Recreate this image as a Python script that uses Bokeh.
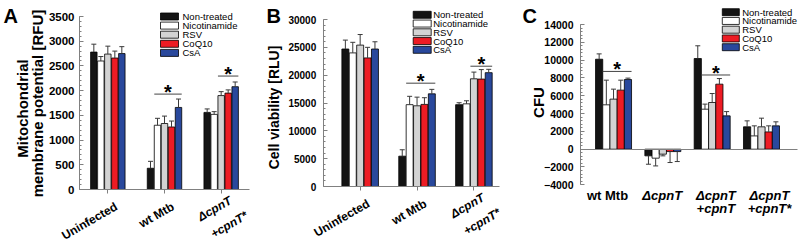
import math
import numpy as np
from bokeh.plotting import figure
from bokeh.models import (ColumnDataSource, Range1d, SingleIntervalTicker, FixedTicker,
                          LinearAxis, CustomJSTickFormatter)
from bokeh.core.properties import value
from bokeh.layouts import row
from bokeh.embed import file_html
from bokeh.resources import INLINE

FONT = "Liberation Sans"
FONT_V = value(FONT)
TREATMENTS = ["Non-treated", "Nicotinamide", "RSV", "CoQ10", "CsA"]
COLORS = ["#141414", "#ffffff", "#d3d3d3", "#ed1c24", "#29489c"]

# ---- Panel A: mitochondrial membrane potential [RFU] ----
A_GROUPS = ["Uninfected", "wt Mtb", "ΔcpnT\n+cpnT*"]
A_UNINFECTED = [2780, 2600, 2740, 2660, 2750]
A_UNINFECTED_SD = [160, 90, 160, 140, 140]
A_WT = [430, 1300, 1335, 1265, 1660]
A_WT_SD = [140, 140, 150, 120, 170]
A_COMP_STAR = [1560, 1520, 1900, 1950, 2080]
A_COMP_STAR_SD = [70, 55, 80, 65, 95]
A_SIG_GROUP = [2, 3]
A_SIG_FROM = [1, 2]
A_SIG_TO = [4, 4]
A_SIG_Y = [1930, 2295]

# ---- Panel B: cell viability [RLU] ----
B_GROUPS = ["Uninfected", "wt Mtb", "ΔcpnT\n+cpnT*"]
B_UNINFECTED = [24700, 24000, 25400, 23100, 24700]
B_UNINFECTED_SD = [1600, 1900, 1900, 1900, 1300]
B_WT = [5450, 14700, 14500, 14750, 16650]
B_WT_SD = [1150, 1500, 1550, 1200, 800]
B_COMP_STAR = [14700, 14850, 19350, 19300, 20450]
B_COMP_STAR_SD = [350, 550, 1200, 1700, 600]
B_SIG_GROUP = [2, 3]
B_SIG_FROM = [1, 2]
B_SIG_TO = [4, 4]
B_SIG_Y = [18560, 21610]

# ---- Panel C: CFU ----
C_GROUPS = ["wt Mtb", "ΔcpnT", "ΔcpnT\n+cpnT", "ΔcpnT\n+cpnT*"]
C_WT = [10100, 4980, 5620, 6630, 7820]
C_WT_SD = [600, 2770, 1120, 1120, 160]
C_KO = [-750, -1010, -560, -270, -270]
C_KO_SD = [940, 870, 190, 1230, 1120]
C_COMP = [10180, 4490, 5240, 7300, 3740]
C_COMP_SD = [1430, 570, 1010, 630, 480]
C_COMP_STAR = [2510, 1490, 2510, 1940, 2620]
C_COMP_STAR_SD = [670, 1130, 970, 680, 450]
C_SIG_GROUP = [1, 3]
C_SIG_FROM = [1, 1]
C_SIG_TO = [4, 4]
C_SIG_Y = [8730, 8330]


def build_panel(groups, means, sds, sig, cfg):
    W, H = cfg["width"], 240
    (xa, pxa, xb, pxb) = cfg["xmap"]
    (ya, pya, yb, pyb) = cfg["ymap"]
    sx = (pxb - pxa) / (xb - xa)
    sy = (pyb - pya) / (yb - ya)

    def X(px):
        return xa + (px - pxa) / sx

    def Y(py):
        return ya + (py - pya) / sy

    ux = 1.0 / sx
    uy = -1.0 / sy  # data units per px going up

    p = figure(width=W, height=H, x_range=Range1d(X(0), X(W)), y_range=Range1d(Y(H), Y(0)),
               min_border=0, x_axis_type=None, y_axis_type=None,
               output_backend="svg", toolbar_location=None)
    p.outline_line_color = None
    p.xgrid.visible = False
    p.ygrid.visible = False
    p.background_fill_color = "white"
    p.border_fill_color = "white"

    ng = len(groups)
    pitch = cfg["pitch"] * ux
    bw = pitch * cfg["fill"]

    # axes (drawn by Bokeh at fixed locations)
    ya_ax = LinearAxis(fixed_location=xa, bounds=(ya, yb),
                       ticker=SingleIntervalTicker(interval=cfg["interval"], num_minor_ticks=5))
    ya_ax.axis_line_color = "#808080"
    ya_ax.major_tick_line_color = "#808080"
    ya_ax.minor_tick_line_color = "#808080"
    ya_ax.major_tick_in = 4
    ya_ax.major_tick_out = 0
    ya_ax.minor_tick_in = 2
    ya_ax.minor_tick_out = 0
    ya_ax.major_label_text_font = FONT
    ya_ax.major_label_text_font_style = "bold"
    ya_ax.major_label_text_font_size = cfg["tick_font"]
    ya_ax.major_label_text_color = "black"
    ya_ax.major_label_standoff = cfg["tick_standoff"]
    p.add_layout(ya_ax, "left")

    xticks = [] if cfg["zero_line"] else list(range(1, ng + 1))
    xa_ax = LinearAxis(fixed_location=0, bounds=(xa, xb), ticker=FixedTicker(ticks=xticks),
                       formatter=CustomJSTickFormatter(code="return ''"))
    xa_ax.axis_line_color = "#808080"
    xa_ax.major_tick_line_color = "#808080"
    xa_ax.major_tick_in = 0
    xa_ax.major_tick_out = 4
    xa_ax.minor_tick_in = 0
    xa_ax.minor_tick_out = 0
    p.add_layout(xa_ax, "below")

    # bars + error bars
    for j, t in enumerate(TREATMENTS):
        xs = [g + 1 + (j - 2) * pitch for g in range(ng)]
        tops = [means[g][j] for g in range(ng)]
        src = ColumnDataSource(dict(x=xs, top=tops))
        p.vbar(x="x", top="top", bottom=0, width=bw, source=src,
               fill_color=COLORS[j], line_color="black", line_width=0.8)
        ends = [means[g][j] + float(np.sign(means[g][j])) * sds[g][j] for g in range(ng)]
        esrc = ColumnDataSource(dict(x=xs, y0=tops, y1=ends,
                                     xl=[x - 2.5 * ux for x in xs],
                                     xr=[x + 2.5 * ux for x in xs]))
        p.segment(x0="x", y0="y0", x1="x", y1="y1", source=esrc,
                  line_color="#3a3a3a", line_width=1)
        p.segment(x0="xl", y0="y1", x1="xr", y1="y1", source=esrc,
                  line_color="#3a3a3a", line_width=1)

    # significance brackets
    gi, b0, b1, yv = sig
    lx0 = [g + (a - 2) * pitch - bw / 2 for g, a in zip(gi, b0)]
    lx1 = [g + (b - 2) * pitch + bw / 2 for g, b in zip(gi, b1)]
    ssrc = ColumnDataSource(dict(x0=lx0, x1=lx1, y=yv,
                                 xm=[(a + b) / 2 for a, b in zip(lx0, lx1)],
                                 ys=[v + 2 * uy for v in yv],
                                 t=["*"] * len(yv)))
    p.segment(x0="x0", y0="y", x1="x1", y1="y", source=ssrc,
              line_color="#444444", line_width=1)
    p.text(x="xm", y="ys", text="t", source=ssrc, text_align="center",
           text_baseline="alphabetic", text_font_size="20px",
           text_font=FONT_V, text_font_style="bold", text_color="black")

    # category labels
    for g, name in enumerate(groups):
        lines = name.split("\n")
        for k, line in enumerate(lines):
            style = "bold italic" if "cpnT" in line else "bold"
            if cfg["rotated"]:
                dx, dy = cfg["rot_off"][len(lines) - 1][k]
                p.text(x=[g + 1 + dx * ux], y=[-dy * uy], text=[line],
                       angle=30, angle_units="deg",
                       text_align="right", text_baseline="top",
                       text_font=FONT_V, text_font_style=style, text_font_size="12px",
                       text_color="black")
            else:
                p.text(x=[g + 1 + cfg["hoff"][g] * ux], y=[Y(cfg["cat_y"][k])], text=[line],
                       text_align="center", text_baseline="middle",
                       text_font=FONT_V, text_font_style=style, text_font_size="13px",
                       text_color="black")

    # y-axis title(s)
    for (txt, cx, cy) in cfg["ylabels"]:
        p.text(x=[X(cx)], y=[Y(cy)], text=[txt], angle=90, angle_units="deg",
               text_align="center", text_baseline="middle",
               text_font=FONT_V, text_font_style="bold", text_font_size=cfg["ylabel_size"],
               text_color="black")

    # legend (drawn as a key block)
    bx, tx, ry0, rdy, bwid = cfg["legend"]
    rows_y = [Y(ry0 + rdy * k) for k in range(len(TREATMENTS))]
    lsrc = ColumnDataSource(dict(x=[X(bx)] * len(TREATMENTS), tx=[X(tx)] * len(TREATMENTS),
                                 y=rows_y, c=COLORS, t=TREATMENTS))
    p.rect(x="x", y="y", width=bwid, height=7, width_units="screen", height_units="screen",
           fill_color="c", line_color="black", line_width=0.8, source=lsrc)
    p.text(x="tx", y="y", text="t", source=lsrc, text_align="left", text_baseline="middle",
           text_font=FONT_V, text_font_size="9.5px", text_color="black")

    # panel letter
    lx, ly = cfg["letter_pos"]
    p.text(x=[X(lx)], y=[Y(ly)], text=[cfg["letter"]], text_align="left",
           text_baseline="top", text_font=FONT_V, text_font_style="bold",
           text_font_size="20px", text_color="black")
    return p


ROT_OFF = {0: [(5, 10)], 1: [(6, 4), (22, 19)]}

# Panel A occupies x 0..265, panel B 265..520, panel C 520..800 (local pixel maps below)
pa = build_panel(
    A_GROUPS,
    [A_UNINFECTED, A_WT, A_COMP_STAR],
    [A_UNINFECTED_SD, A_WT_SD, A_COMP_STAR_SD],
    (A_SIG_GROUP, A_SIG_FROM, A_SIG_TO, A_SIG_Y),
    dict(width=265, xmap=(0.5, 79, 3.5, 249), ymap=(0, 189, 3500, 16),
         pitch=7.0, fill=0.92, interval=500, tick_font="11.5px", tick_standoff=5,
         ylabels=[("Mitochondrial", 21.5, 108), ("membrane potential [RFU]", 37, 103)],
         ylabel_size="15px", zero_line=False, rotated=True, rot_off=ROT_OFF,
         legend=(169, 182, 16, 9.1, 18), letter="A", letter_pos=(3, 4)))

pb = build_panel(
    B_GROUPS,
    [B_UNINFECTED, B_WT, B_COMP_STAR],
    [B_UNINFECTED_SD, B_WT_SD, B_COMP_STAR_SD],
    (B_SIG_GROUP, B_SIG_FROM, B_SIG_TO, B_SIG_Y),
    dict(width=255, xmap=(0.35, 57.7, 3.45, 234), ymap=(0, 186, 30000, 19),
         pitch=7.4, fill=0.94, interval=5000, tick_font="10px", tick_standoff=7,
         ylabels=[("Cell viability [RLU]", 8.5, 107)],
         ylabel_size="14px", zero_line=False, rotated=True, rot_off=ROT_OFF,
         legend=(156.7, 167.7, 14.3, 8.75, 18), letter="B", letter_pos=(1, 4)))

pc = build_panel(
    C_GROUPS,
    [C_WT, C_KO, C_COMP, C_COMP_STAR],
    [C_WT_SD, C_KO_SD, C_COMP_SD, C_COMP_STAR_SD],
    (C_SIG_GROUP, C_SIG_FROM, C_SIG_TO, C_SIG_Y),
    dict(width=280, xmap=(0.33, 60, 4.73, 277), ymap=(-4000, 184.3, 14000, 24),
         pitch=7.2, fill=1.0, interval=2000, tick_font="10.5px", tick_standoff=7,
         ylabels=[("CFU", 17.5, 102)],
         ylabel_size="15px", zero_line=True, rotated=False,
         hoff=[-6, -0.6, 3.7, 8], cat_y=[195, 208],
         legend=(210.3, 221.7, 11.7, 8.75, 17), letter="C", letter_pos=(2, 4)))

layout = row(pa, pb, pc)
open("out.html", "w").write(file_html(layout, INLINE))
